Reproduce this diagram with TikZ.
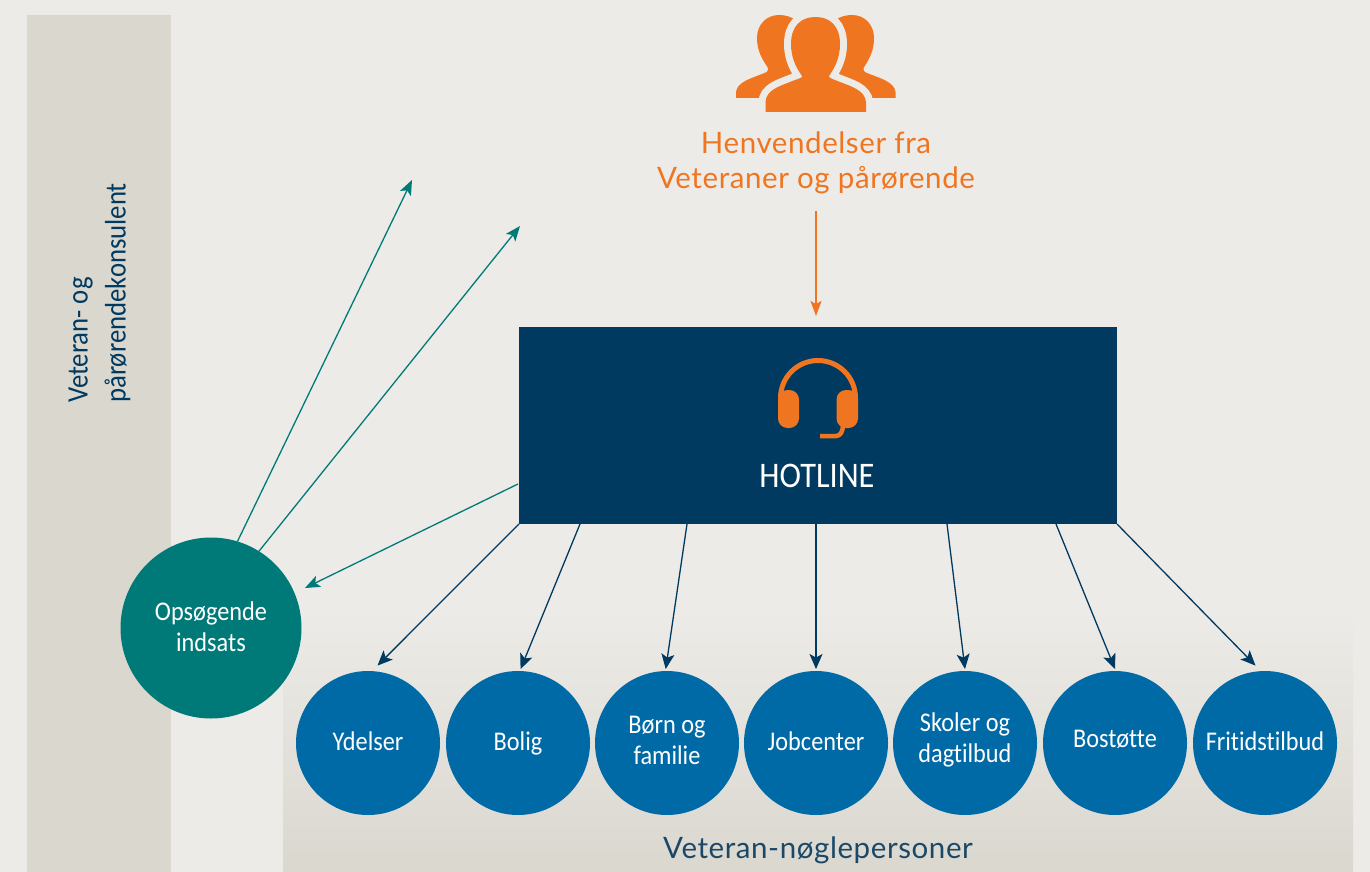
\documentclass[tikz,border=0pt]{standalone}
\usepackage{fontspec}
\setmainfont{Carlito}[FakeStretch=0.9,Ligatures=NoCommon]
\newfontfamily\headfont[LetterSpace=2]{Lato}
\usetikzlibrary{arrows.meta,calc}
\definecolor{bgc}{HTML}{EDEBE7}
\definecolor{band}{HTML}{DAD7CF}
\definecolor{navy}{HTML}{003A60}
\definecolor{navytxt}{HTML}{1B4867}
\definecolor{blu}{HTML}{006AA6}
\definecolor{teal2}{HTML}{007A78}
\definecolor{orng}{HTML}{F07520}
\newcommand{\dropby}[1]{\rule[-#1pt]{0pt}{0pt}}
\tikzset{
  svc/.style={circle,fill=blu,text=white,minimum size=144pt,inner sep=0pt,outer sep=2pt,align=center,font=\fontsize{27}{31}\selectfont},
  opsc/.style={circle,fill=teal2,text=white,minimum size=181pt,inner sep=0pt,outer sep=0pt,align=center,font=\fontsize{27}{31}\selectfont},
  navyarrow/.style={navy,line width=1.3pt,-{Stealth[length=15pt,width=13pt,inset=3.5pt]}},
  tealarrow/.style={teal2,line width=1.3pt,-{Stealth[length=15pt,width=12pt,inset=3.5pt]}},
  orangearrow/.style={orng,line width=2pt,-{Stealth[length=15pt,width=11pt,inset=3pt]}},
}
\newcommand{\frontperson}{(765.5,112) -- (765.5,102) .. controls (766,90) and (780,86) .. (790,82) .. controls (797,79) and (803,78) .. (802,76) .. controls (798,70) and (791,60) .. (791,44) .. controls (791,26) and (801,17) .. (815.5,17) .. controls (830,17) and (840,26) .. (840,44) .. controls (840,60) and (833,70) .. (829,76) .. controls (828,78) and (833,79) .. (840,82) .. controls (850,86) and (865,90) .. (866,102) -- (866,112) -- cycle}
\begin{document}
\begin{tikzpicture}[x=1pt,y=-1pt]
\useasboundingbox (0,0) rectangle (1370,872);
\fill[bgc] (0,0) rectangle (1370,872);
\fill[band] (27,15) rectangle (171,872);
\shade[top color=bgc,bottom color=band,shading angle=0] (283,610) rectangle (1353,872);
% people icon
\fill[orng] (736,98) -- (736,92) .. controls (737,82) and (752,78) .. (762,74) .. controls (768,72) and (769,70) .. (768,68) .. controls (763,60) and (757,52) .. (757,38) .. controls (757,25) and (766,15) .. (779,15) .. controls (792,15) and (802,22) .. (815,40) -- (815,98) -- cycle;
\fill[orng] (895.5,98) -- (895.5,92) .. controls (894.5,82) and (879.5,78) .. (869.5,74) .. controls (863.5,72) and (862.5,70) .. (863.5,68) .. controls (868.5,60) and (874,52) .. (874,38) .. controls (874,25) and (865,15) .. (852,15) .. controls (839,15) and (829,22) .. (816,40) -- (816,98) -- cycle;
\fill[orng,draw=bgc,line width=14pt] \frontperson;
\fill[bgc] (755,112) rectangle (880,125);
\fill[orng] \frontperson;
% texts
\node[text=orng,align=center,font=\headfont\fontsize{29.5}{35}\selectfont] (henv) at (816,163) {Henvendelser fra\\Veteraner og pårørende};
\node[text=navy,rotate=90,align=left,font=\fontsize{29.7}{38}\selectfont,anchor=center] (kons) at (99.5,293) {Veteran- og\\pårørendekonsulent};
\node[text=navytxt,font=\headfont\fontsize{29.5}{30}\selectfont] (nogle) at (818,850) {Veteran-nøglepersoner};
% hotline
\node[fill=navy,minimum width=598pt,minimum height=197pt,inner sep=0pt,outer sep=0pt] (hot) at (818,425.5) {};
\node[text=white,font=\fontsize{36}{36}\selectfont] (hottxt) at (817,476) {HOTLINE};
% headset
\draw[orng,line width=5pt] (780.5,398) arc[start angle=180,end angle=360,radius=37.5];
\fill[orng,rounded corners=9.5pt] (778,390) rectangle (799,428);
\fill[orng,rounded corners=9.5pt] (836.5,390) rectangle (858,428);
\draw[orng,line width=4.5pt] (843,425) .. controls (843,432) and (840,436) .. (836,436) -- (820,436);
% circles
\node[svc,outer sep=6pt] (ydelser) at (368,743) {Ydelser\dropby{4}};
\node[svc] (bolig) at (518,743) {Bolig};
\node[svc] (born) at (667,743) {Børn og\\familie\dropby{6}};
\node[svc] (job) at (816,743) {Jobcenter\dropby{4}};
\node[svc] (skoler) at (965,743) {Skoler og\\dagtilbud\dropby{10}};
\node[svc] (bostotte) at (1115,743) {Bostøtte\dropby{9}};
\node[svc,outer sep=6pt] (frit) at (1265,743) {Fritidstilbud\dropby{4}};
\node[opsc] (ops) at (211,628) {Opsøgende\\indsats\dropby{2}};
% free ends
\coordinate (o1) at (412,180);
\coordinate (o2) at (520,226);
\coordinate (o3) at (305,588);
\coordinate (hl) at (518,484);
\coordinate (or1) at (816,211);
\coordinate (or2) at (816,316);
\coordinate (b2) at (580,524);
\coordinate (b3) at (687,524);
\coordinate (b4) at (816,524);
\coordinate (b5) at (947,524);
\coordinate (b6) at (1056,524);
% connectors
\draw[orangearrow] (or1) -- (or2);
\draw[tealarrow] (ops.73) -- (o1);
\draw[tealarrow] (ops.58) -- (o2);
\draw[tealarrow] (hl) -- (o3);
\draw[navyarrow] (hot.south west) -- (ydelser.83);
\draw[navyarrow] (b2) -- (bolig.88);
\draw[navyarrow] (b3) -- (born.91);
\draw[navyarrow] (b4) -- (job.90);
\draw[navyarrow] (b5) -- (skoler.90);
\draw[navyarrow] (b6) -- (bostotte.90);
\draw[navyarrow] (hot.south east) -- (frit.97);
\end{tikzpicture}
\end{document}
